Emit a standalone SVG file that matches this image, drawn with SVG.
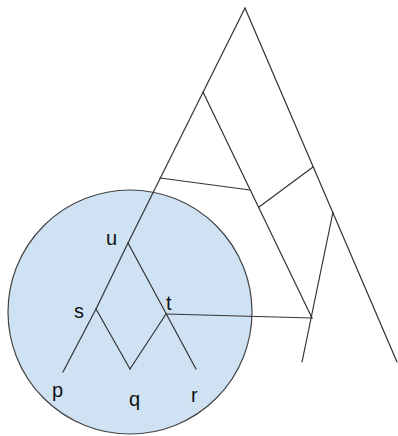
<svg xmlns="http://www.w3.org/2000/svg" width="398" height="436" viewBox="0 0 398 436">
<style>
.e{stroke:#333;stroke-width:1.2;fill:none;stroke-linecap:round}
.l{font-family:"Liberation Sans",Arial,sans-serif;font-size:20px;fill:#111}
</style>
<rect width="398" height="436" fill="#fff"/>
<g id="circle"><circle cx="130" cy="312" r="122" fill="#cfe2f3" stroke="#444" stroke-width="1.2"/></g>
<g id="connectors">
<path class="e" d="M245,8 L397,362"/>
<path class="e" d="M245,8 L128,243"/>
<path class="e" d="M203,92 L312,318"/>
<path class="e" d="M160,178 L250,190"/>
<path class="e" d="M259,207 L313,167"/>
<path class="e" d="M333,212 L302,362"/>
<path class="e" d="M166,314 L312,318"/>
<path class="e" d="M128,243 L96,309"/>
<path class="e" d="M96,309 L63,372"/>
<path class="e" d="M96,309 L130,369"/>
<path class="e" d="M130,369 L166,314"/>
<path class="e" d="M128,243 L196,369"/>
</g>
<g id="u"><text class="l" x="106" y="245">u</text></g>
<g id="s"><text class="l" x="74" y="318">s</text></g>
<g id="t"><text class="l" x="166" y="310">t</text></g>
<g id="p"><text class="l" x="52" y="397">p</text></g>
<g id="q"><text class="l" x="129" y="406">q</text></g>
<g id="r"><text class="l" x="191" y="402">r</text></g>
</svg>
